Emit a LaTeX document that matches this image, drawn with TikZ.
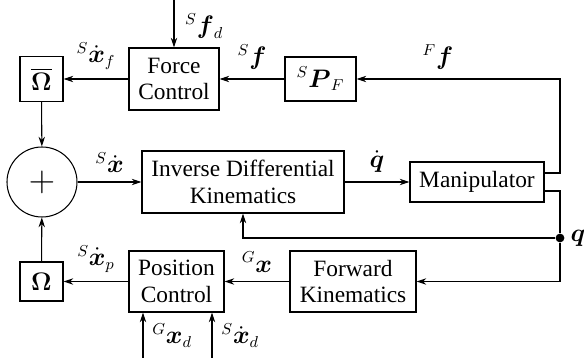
\documentclass[tikz,border=0pt]{standalone}
\usepackage{fontspec}
\setmainfont{Liberation Serif}
\usepackage{amsmath}
\usetikzlibrary{arrows.meta, positioning, calc}

\begin{document}
\begin{tikzpicture}[
  >={Stealth[length=5.5pt,width=3.6pt]},
  line width=0.6pt,
  block/.style={draw, align=center, inner sep=2pt,
                font=\fontsize{13.3}{15}\selectfont},
  sig/.style={font=\fontsize{13.3}{15}\selectfont, inner sep=2pt}
]
\useasboundingbox (0,0) rectangle (11.68,7.16);

% upper row
\node[block, minimum width=0.86cm, minimum height=0.90cm] (ombar) at (0.83,5.58) {$\overline{\boldsymbol{\Omega}}$};
\node[block, minimum width=1.80cm, minimum height=1.24cm] (fc)    at (3.48,5.58) {Force\\Control};
\node[block, minimum width=1.42cm, minimum height=0.88cm] (pf)    at (6.41,5.58) {${}^{S}\boldsymbol{P}_{F}$};

% middle row
\node[draw, circle, minimum size=1.4cm, inner sep=0pt] (sum) at (0.84,3.52) {\fontsize{20}{20}\selectfont$+$};
\node[block, minimum width=4.04cm, minimum height=1.24cm] (idk) at (4.86,3.52) {Inverse Differential\\Kinematics};
\node[block, minimum width=2.68cm, minimum height=0.80cm] (man) at (9.54,3.52) {Manipulator};

% lower row
\node[block, minimum width=0.86cm, minimum height=0.78cm] (om) at (0.83,1.53) {$\boldsymbol{\Omega}$};
\node[block, minimum width=1.90cm, minimum height=1.22cm] (pc) at (3.53,1.53) {Position\\Control};
\node[block, minimum width=2.52cm, minimum height=1.22cm] (fk) at (7.06,1.53) {Forward\\Kinematics};

% branch points and free ends
\coordinate (rt)    at (11.20,5.58);
\node[circle, fill, inner sep=0pt, minimum size=5pt] (dot) at (11.20,2.40) {};
\node[sig, right=1pt of dot] (qlab) {$\boldsymbol{q}$};
\coordinate (fdin)  at (3.48,7.16);
\coordinate (xdin)  at (2.86,0);
\coordinate (xddin) at (4.24,0);

% force loop
\draw[->] (fdin) -- node[sig, right=4pt, pos=0.55] {${}^{S}\boldsymbol{f}_{d}$} (fc);
\draw[->] (fc) -- node[sig, above=3pt] {${}^{S}\dot{\boldsymbol{x}}_{f}$} (ombar);
\draw[->] (pf) -- node[sig, above=3pt] {${}^{S}\boldsymbol{f}$} (fc);
\draw[->] ([yshift=0.18cm]man.east) -| (rt) -- node[sig, above=3pt, pos=0.6] {${}^{F}\boldsymbol{f}$} (pf);
\draw[->] (ombar) -- (sum);

% forward path
\draw[->] (sum) -- node[sig, above=3pt] {${}^{S}\dot{\boldsymbol{x}}$} (idk);
\draw[->] (idk) -- node[sig, above=3pt] {$\dot{\boldsymbol{q}}$} (man);

% position loop
\draw ([yshift=-0.18cm]man.east) -| (dot);
\draw[->] (dot) -| (idk.south);
\draw[->] (dot) |- (fk.east);
\draw[->] (fk) -- node[sig, above=3pt] {${}^{G}\boldsymbol{x}$} (pc);
\draw[->] (pc) -- node[sig, above=3pt] {${}^{S}\dot{\boldsymbol{x}}_{p}$} (om);
\draw[->] (om) -- (sum);
\draw[->] (xdin) -- node[sig, right=3pt, pos=0.5] {${}^{G}\boldsymbol{x}_{d}$} (xdin |- pc.south);
\draw[->] (xddin) -- node[sig, right=3pt, pos=0.5] {${}^{S}\dot{\boldsymbol{x}}_{d}$} (xddin |- pc.south);
\end{tikzpicture}
\end{document}
